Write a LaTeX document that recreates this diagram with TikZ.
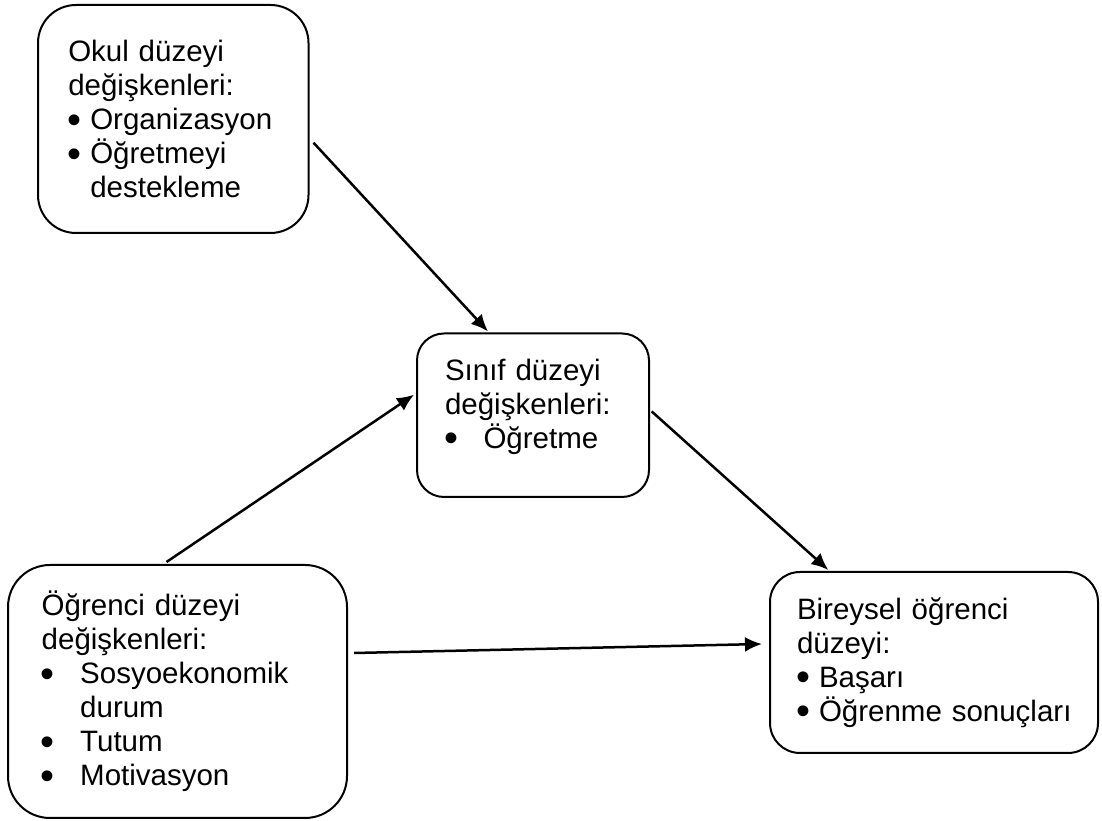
\documentclass[tikz,border=0pt]{standalone}
\usepackage{fontspec}
\setmainfont{Liberation Sans}
\usetikzlibrary{positioning}
\usetikzlibrary{arrows.meta}
\newcommand{\bdot}{\hspace*{-1pt}\raisebox{-3.5pt}{\scalebox{1.35}{•}}}
\newcommand{\nitem}[1]{\makebox[22pt][l]{\bdot}#1}
\newcommand{\witem}[1]{\makebox[38.5pt][l]{\bdot}#1}

\begin{document}
\begin{tikzpicture}[node distance=1cm,on grid,
   >={Latex[length=17pt,width=15pt]},
   level/.style={draw,line width=2pt,align=left,inner ysep=0pt,
      font=\fontsize{29.5}{34}\selectfont},
   link/.style={->,line width=2.5pt}]
   \useasboundingbox (0,0) rectangle (1102pt,821pt);
   \node[level,minimum width=270.5pt,minimum height=228pt,text width=210pt,
      inner xsep=30.25pt,rounded corners=38pt] (okul) at (173.25pt,702pt)
      {Okul düzeyi\\ değişkenleri:\\ \nitem{Organizasyon}\\ \nitem{Öğretmeyi}\\ \hspace*{22pt}destekleme};
   \node[level,minimum width=232pt,minimum height=163.5pt,text width=176pt,
      inner xsep=28pt,rounded corners=27pt] (sinif) [below right=296.25pt and 359.75pt of okul]
      {Sınıf düzeyi\\ değişkenleri:\\ \witem{Öğretme}\\[-11pt]\mbox{}};
   \node[level,minimum width=339pt,minimum height=253pt,text width=271.6pt,
      inner xsep=33.7pt,rounded corners=42pt] (ogrenci) [below right=572.5pt and 4.25pt of okul]
      {Öğrenci düzeyi\\ değişkenleri:\\ \witem{Sosyoekonomik}\\ \hspace*{38.5pt}durum\\ \witem{Tutum}\\ \witem{Motivasyon}};
   \node[level,minimum width=328pt,minimum height=181pt,text width=274pt,
      inner xsep=27pt,rounded corners=30pt] (bireysel) [below right=247.25pt and 401pt of sinif]
      {Bireysel öğrenci\\ düzeyi:\\ \nitem{Başarı}\\ \nitem{Öğrenme~sonuçları}};
   \draw[link] ([shift={(4pt,-23.7pt)}]okul.east) -- ([shift={(-45pt,1pt)}]sinif.north);
   \draw[link] ([shift={(-11pt,2pt)}]ogrenci.north) -- ([shift={(-2pt,20.5pt)}]sinif.west);
   \draw[link] ([shift={(1.7pt,3.8pt)}]sinif.east) -- ([shift={(-105.7pt,1pt)}]bireysel.north);
   \draw[link] ([shift={(6pt,38.5pt)}]ogrenci.east) -- ([shift={(-7pt,18.5pt)}]bireysel.west);
\end{tikzpicture}
\end{document}
